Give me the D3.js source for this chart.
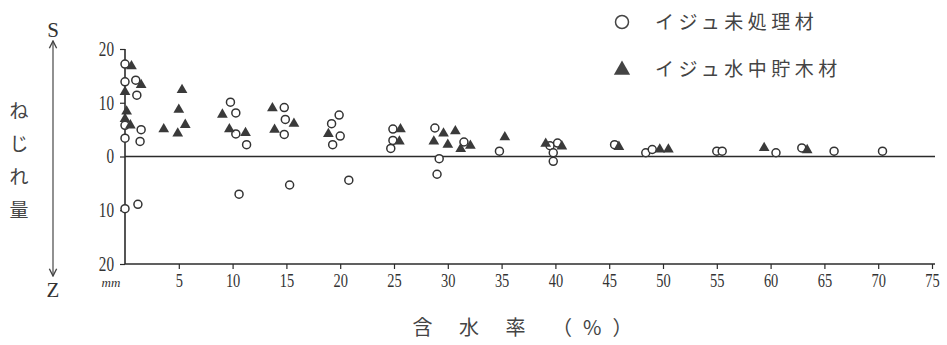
<!DOCTYPE html>
<html>
<head>
<meta charset="utf-8">
<script src="https://cdn.jsdelivr.net/npm/d3@7"></script>
<style>
  html, body { margin: 0; padding: 0; background: #fff; }
  svg { display: block; }
</style>
</head>
<body>
<svg id="chart" width="947" height="345"></svg>
<script>
// Twist (mm, S positive / Z negative) against moisture content (%)
const untreated = [
  [0.0, 17.2], [0.0, 13.9], [1.0, 14.2], [1.1, 11.4], [0.0, 5.8], [1.5, 5.0],
  [0.0, 3.4], [1.4, 2.8], [0.0, -9.7], [1.2, -8.9],
  [9.8, 10.1], [10.3, 8.1], [10.3, 4.2], [11.3, 2.2], [10.6, -7.0],
  [14.8, 9.1], [14.9, 6.9], [14.8, 4.1], [15.3, -5.3],
  [19.9, 7.7], [19.2, 6.1], [20.0, 3.8], [19.3, 2.2], [20.8, -4.4],
  [24.9, 5.1], [24.9, 3.0], [24.7, 1.5],
  [28.8, 5.3], [29.0, -3.3], [29.2, -0.4], [31.5, 2.7], [34.8, 1.0],
  [39.5, 2.0], [40.2, 2.5], [39.8, 0.7], [39.8, -0.9],
  [45.5, 2.2], [48.4, 0.7], [49.0, 1.3],
  [55.0, 1.0], [55.5, 1.0], [60.5, 0.7], [62.9, 1.6], [65.9, 1.0], [70.4, 1.0]
];

const waterStored = [
  [0.6, 16.8], [1.5, 13.3], [0.0, 12.0], [0.15, 8.4], [0.0, 7.0], [0.5, 5.8],
  [3.6, 5.1], [4.9, 4.3], [5.0, 8.7], [5.3, 12.4], [5.6, 5.9],
  [9.05, 7.8], [9.7, 5.1], [11.2, 4.4],
  [13.7, 9.0], [13.9, 5.0], [15.7, 6.1],
  [18.9, 4.2],
  [25.6, 5.1], [25.5, 2.8],
  [28.7, 2.8], [29.6, 4.3], [30.7, 4.7], [30.0, 2.2], [31.2, 1.4], [32.1, 2.0], [35.3, 3.6],
  [39.1, 2.4], [40.6, 1.9],
  [45.9, 1.8], [49.7, 1.3], [50.5, 1.3],
  [59.4, 1.6], [63.4, 1.2]
];

const xTicks = [5, 10, 15, 20, 25, 30, 35, 40, 45, 50, 55, 60, 65, 70, 75];
const yTicks = [20, 10, 0, -10, -20];
const legendLabels = ["イジュ未処理材", "イジュ水中貯木材"];
const yTitle = ["ね", "じ", "れ", "量"];
const xTitle = "含 水 率 （%）";

const ink = "#2b2b2b";
const serif = "'Liberation Serif', 'DejaVu Serif', serif";
const jp = "'Noto Sans CJK JP', 'Noto Sans', sans-serif";
const squeeze = 0.76; // horizontal condensing of the numerals

const svg = d3.select("#chart");

const x = d3.scaleLinear().domain([0, 75]).range([125, 932]);
const y = d3.scaleLinear().domain([-20, 20]).range([264, 49]);

// bottom axis
const xAxis = d3.axisBottom(x).tickValues(xTicks).tickSize(5).tickSizeOuter(0).tickPadding(5);
const gx = svg.append("g").attr("transform", `translate(0,${y(-20)})`).call(xAxis);
gx.select(".domain").attr("stroke", ink).attr("stroke-width", 1.6)
  .attr("d", `M${x(0)},0H${x(75) + 3}`);
gx.selectAll(".tick line").attr("stroke", ink).attr("stroke-width", 1.2);
gx.selectAll(".tick text").attr("fill", "#333").attr("font-family", serif)
  .attr("font-size", 19).attr("transform", `scale(${squeeze},1)`);

// left axis
const yAxis = d3.axisLeft(y).tickValues(yTicks).tickSize(5).tickSizeOuter(0).tickPadding(6)
  .tickFormat(d => Math.abs(d));
const gy = svg.append("g").attr("transform", `translate(${x(0)},0)`).call(yAxis);
gy.select(".domain").attr("stroke", ink).attr("stroke-width", 1.6)
  .attr("d", `M0,${y(20)}V${y(-20)}`);
gy.selectAll(".tick line").attr("stroke", ink).attr("stroke-width", 1.2);
gy.selectAll(".tick text").attr("fill", "#333").attr("font-family", serif)
  .attr("font-size", 20).attr("x", -11 / squeeze)
  .attr("transform", `scale(${squeeze},1)`);

// zero line
svg.append("line")
  .attr("x1", x(0)).attr("x2", x(75) + 3)
  .attr("y1", y(0)).attr("y2", y(0))
  .attr("stroke", ink).attr("stroke-width", 1.6);

// unit label
svg.append("text").attr("x", 111).attr("y", 287)
  .attr("font-family", serif).attr("font-style", "italic")
  .attr("font-size", 13).attr("fill", "#333").attr("text-anchor", "middle")
  .text("mm");

// S / Z double arrow
const defs = svg.append("defs");
defs.append("marker").attr("id", "ah").attr("viewBox", "0 0 10 10")
  .attr("refX", 9).attr("refY", 5).attr("markerWidth", 7).attr("markerHeight", 7)
  .attr("orient", "auto-start-reverse")
  .append("path").attr("d", "M1,1L9,5L1,9").attr("fill", "none")
  .attr("stroke", "#444").attr("stroke-width", 1.5);
svg.append("line").attr("x1", 53).attr("x2", 53).attr("y1", 41).attr("y2", 276)
  .attr("stroke", "#555").attr("stroke-width", 1.3)
  .attr("marker-start", "url(#ah)").attr("marker-end", "url(#ah)");
svg.append("text").attr("x", 53).attr("y", 37).attr("text-anchor", "middle")
  .attr("font-family", serif).attr("font-size", 21).attr("fill", "#333").text("S");
svg.append("text").attr("x", 53).attr("y", 297).attr("text-anchor", "middle")
  .attr("font-family", serif).attr("font-size", 21).attr("fill", "#333").text("Z");

// vertical axis title
svg.append("g").selectAll("text").data(yTitle).join("text")
  .attr("x", 19).attr("y", (d, i) => 118 + i * 33)
  .attr("text-anchor", "middle").attr("font-family", jp)
  .attr("font-size", 19).attr("fill", "#444").text(d => d);

// horizontal axis title
svg.append("text").attr("x", 528).attr("y", 335).attr("text-anchor", "middle")
  .attr("font-family", jp).attr("font-size", 20).attr("fill", "#444")
  .attr("letter-spacing", 11).text(xTitle);

// data marks
svg.append("g").selectAll("circle").data(untreated).join("circle")
  .attr("cx", d => x(d[0])).attr("cy", d => y(d[1])).attr("r", 4)
  .attr("fill", "#fff").attr("stroke", "#333").attr("stroke-width", 1.5);

const tri = d3.symbol().type(d3.symbolTriangle).size(50);
svg.append("g").selectAll("path").data(waterStored).join("path")
  .attr("transform", d => `translate(${x(d[0])},${y(d[1])})`)
  .attr("d", tri).attr("fill", "#3a3a3a");

// legend
const lg = svg.append("g");
lg.append("circle").attr("cx", 622).attr("cy", 22).attr("r", 6.5)
  .attr("fill", "#fff").attr("stroke", "#444").attr("stroke-width", 1.5);
lg.append("path").attr("transform", "translate(622,70)")
  .attr("d", d3.symbol().type(d3.symbolTriangle).size(115)).attr("fill", "#444");
lg.selectAll("text").data(legendLabels).join("text")
  .attr("x", 655).attr("y", (d, i) => 29 + i * 47)
  .attr("font-family", jp).attr("font-size", 19).attr("fill", "#444")
  .attr("letter-spacing", 4.5).text(d => d);
</script>
</body>
</html>
